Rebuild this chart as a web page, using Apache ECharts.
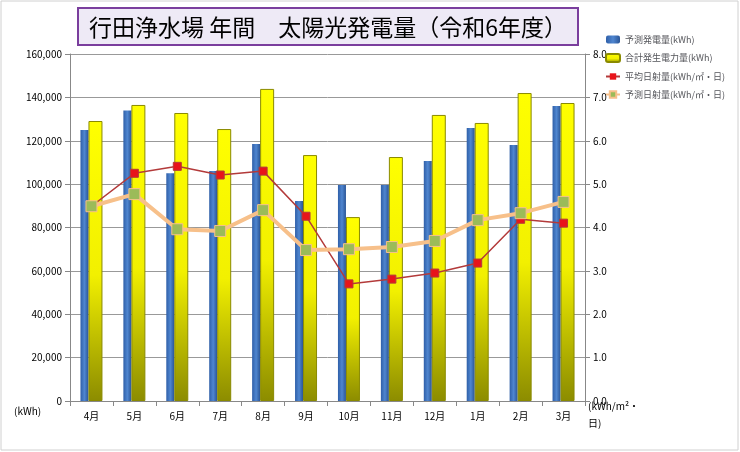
<!DOCTYPE html>
<html>
<head>
<meta charset="utf-8">
<script src="https://cdn.jsdelivr.net/npm/echarts@6/dist/echarts.min.js"></script>
<style>
  body { margin: 0; background: #fff; }
  #chart { width: 740px; height: 452px; }
</style>
</head>
<body>
<div id="chart"></div>
<script>
const months = ["4月", "5月", "6月", "7月", "8月", "9月", "10月", "11月", "12月", "1月", "2月", "3月"];
const forecastKwh = [125000, 134000, 105000, 106000, 118500, 92200, 99600, 99600, 110700, 125900, 118000, 136000];
const totalKwh = [129100, 136500, 132800, 125400, 143900, 113400, 84800, 112500, 131900, 128200, 142000, 137400];
const avgIrradiance = [4.49, 5.25, 5.41, 5.21, 5.30, 4.26, 2.70, 2.81, 2.95, 3.18, 4.19, 4.10];
const forecastIrradiance = [4.49, 4.77, 3.96, 3.92, 4.40, 3.48, 3.50, 3.55, 3.69, 4.17, 4.33, 4.59];

const font = "'Noto Sans CJK JP', sans-serif";
const chart = echarts.init(document.getElementById("chart"));

chart.setOption({
  textStyle: { fontFamily: font },
  graphic: [
    {
      type: "rect",
      shape: { x: 1, y: 1, width: 737, height: 449 },
      style: { fill: "none", stroke: "#d0d0d0", lineWidth: 1 }
    },
    {
      type: "rect",
      shape: { x: 78, y: 8, width: 500, height: 37 },
      style: { fill: "#eeeaf6", stroke: "#7a3e9d", lineWidth: 2 }
    },
    {
      type: "text",
      x: 328, y: 27,
      style: {
        text: "行田浄水場 年間　太陽光発電量（令和6年度）",
        fontSize: 23, fontFamily: font, fill: "#000",
        align: "center", verticalAlign: "middle"
      }
    },
    { type: "text", left: 14, top: 406, style: { text: "(kWh)", fontSize: 10, fontFamily: font } },
    { type: "text", left: 588, top: 398, style: { text: "(kWh/m²・\n日)", fontSize: 10, lineHeight: 17, fontFamily: font } }
  ],
  legend: {
    orient: "vertical",
    left: 600, top: 30,
    itemWidth: 14, itemHeight: 8, itemGap: 9,
    textStyle: { fontSize: 9, fontFamily: font },
    data: ["予測発電量(kWh)", "合計発生電力量(kWh)", "平均日射量(kWh/㎡・日)", "予測日射量(kWh/㎡・日)"]
  },
  grid: { left: 70, right: 155, top: 54, bottom: 51 },
  xAxis: {
    type: "category",
    data: months,
    axisTick: { show: true },
    axisLine: { lineStyle: { color: "#888" } },
    axisLabel: { fontSize: 10, color: "#000", margin: 10 }
  },
  yAxis: [
    {
      type: "value", min: 0, max: 160000, interval: 20000,
      axisLine: { show: true, lineStyle: { color: "#888" } },
      axisTick: { show: true },
      splitLine: { lineStyle: { color: "#999" } },
      axisLabel: { fontSize: 10, color: "#000", formatter: v => v.toLocaleString("en-US") }
    },
    {
      type: "value", min: 0, max: 8, interval: 1,
      axisLine: { show: true, lineStyle: { color: "#888" } },
      axisTick: { show: true },
      splitLine: { show: false },
      axisLabel: { fontSize: 10, color: "#000", formatter: v => v.toFixed(1) }
    }
  ],
  series: [
    {
      name: "予測発電量(kWh)", type: "bar", data: forecastKwh,
      barWidth: 8, barGap: "0%",
      itemStyle: {
        color: new echarts.graphic.LinearGradient(0, 0, 1, 0, [
          { offset: 0, color: "#2f5fa8" }, { offset: 0.5, color: "#4f86d0" }, { offset: 1, color: "#2a5596" }
        ])
      }
    },
    {
      name: "合計発生電力量(kWh)", type: "bar", data: totalKwh,
      barWidth: 14,
      itemStyle: {
        borderColor: "#8a8a00", borderWidth: 1,
        color: new echarts.graphic.LinearGradient(0, 0, 0, 1, [
          { offset: 0, color: "#ffff00" }, { offset: 0.55, color: "#f2f000" }, { offset: 1, color: "#8c8c00" }
        ])
      }
    },
    {
      name: "平均日射量(kWh/㎡・日)", type: "line", yAxisIndex: 1, data: avgIrradiance,
      symbol: "rect", symbolSize: 8,
      lineStyle: { color: "#b33a3a", width: 1.5 },
      itemStyle: { color: "#e8141a", borderColor: "#b33a3a" }
    },
    {
      name: "予測日射量(kWh/㎡・日)", type: "line", yAxisIndex: 1, data: forecastIrradiance,
      symbol: "rect", symbolSize: 11,
      lineStyle: { color: "#f7c08a", width: 4 },
      itemStyle: { color: "#9bbb59", borderColor: "#f7c08a", borderWidth: 1 }
    }
  ]
});
</script>
</body>
</html>
